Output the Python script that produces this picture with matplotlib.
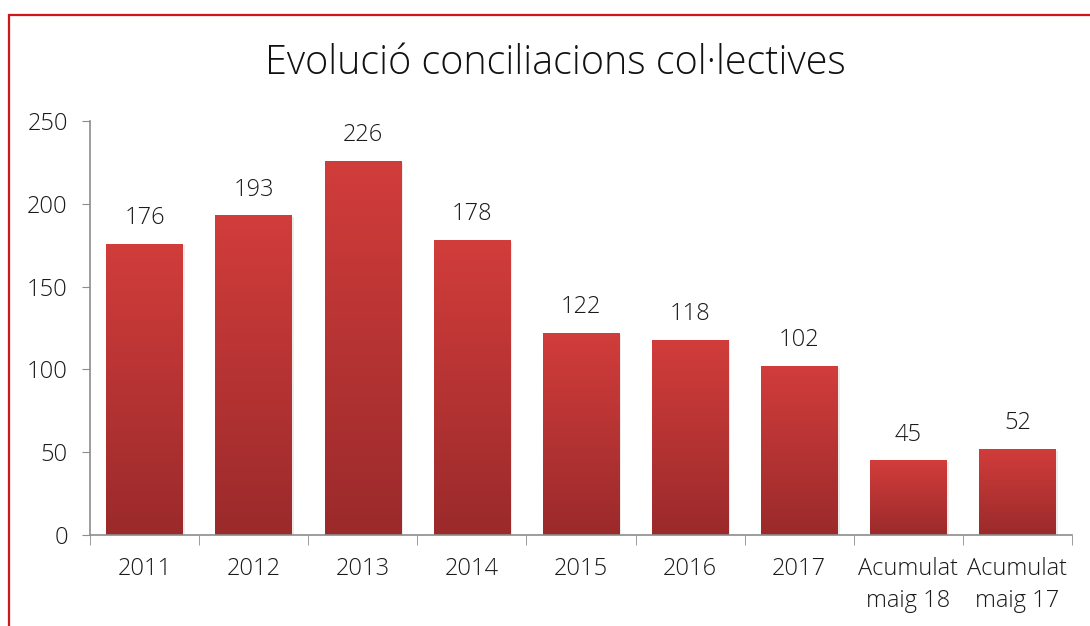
import numpy as np
import matplotlib
matplotlib.use('Agg')
import matplotlib.pyplot as plt
from matplotlib.patches import Rectangle
from matplotlib.colors import LinearSegmentedColormap

categories = ['2011', '2012', '2013', '2014', '2015', '2016', '2017',
              'Acumulat\nmaig 18', 'Acumulat\nmaig 17']
values = [176, 193, 226, 178, 122, 118, 102, 45, 52]
title = 'Evolució conciliacions col·lectives'

plt.rcParams['font.family'] = ['Open Sans', 'DejaVu Sans']
plt.rcParams['font.weight'] = 300

fig = plt.figure(figsize=(10.9, 6.26), dpi=100)
ax = fig.add_axes([90 / 1090, 91 / 626, 982 / 1090, 414 / 626])

# outer red frame (runs off the right and bottom edges)
fig.patches.append(Rectangle((8.5 / 1090, -0.1), 1.2, (626 - 14.5) / 626 + 0.1,
                             transform=fig.transFigure, fill=False,
                             edgecolor='#d0161b', linewidth=1.6))

x = np.arange(len(categories))
bars = ax.bar(x, values, width=0.7, color='none', zorder=2)

# vertical gradient in each bar
cmap = LinearSegmentedColormap.from_list('redgrad', ['#9b2a2b', '#d13d3b'])
grad = np.linspace(0, 1, 256).reshape(-1, 1)
for b in bars:
    x0, w, h = b.get_x(), b.get_width(), b.get_height()
    # faint shadow
    ax.add_patch(Rectangle((x0 + 0.02, 0), w, h - 1, facecolor='#000000',
                           alpha=0.08, edgecolor='none', zorder=1))
    im = ax.imshow(grad, extent=[x0, x0 + w, 0, h], origin='lower',
                   cmap=cmap, aspect='auto', zorder=2)
    im.set_clip_path(b)
    ax.annotate(str(int(h)), (x0 + w / 2, h), xytext=(0, 10),
                textcoords='offset points', ha='center', va='bottom',
                fontsize=17, color='#1a1a1a')

ax.set_xlim(-0.5, len(categories) - 0.5)
ax.set_ylim(0, 250)
ax.set_yticks(range(0, 251, 50))
ax.set_xticks(x)
ax.set_xticklabels(categories, fontsize=17, color='#1a1a1a', linespacing=1.45)
ax.tick_params(axis='y', labelsize=17, labelcolor='#1a1a1a', length=6,
               color='#8c8c8c', pad=10)
ax.tick_params(axis='x', length=0, pad=16)
ax.set_xticks(np.arange(-0.5, len(categories), 1), minor=True)
ax.tick_params(axis='x', which='minor', length=7, color='#8c8c8c')

for s in ['top', 'right']:
    ax.spines[s].set_visible(False)
for s in ['left', 'bottom']:
    ax.spines[s].set_color('#8c8c8c')
    ax.spines[s].set_linewidth(1.2)

fig.text(555 / 1090, 1 - 64 / 626, title, ha='center', va='center',
         fontsize=28.5, color='#111111')

fig.savefig('out.png', dpi=100)
